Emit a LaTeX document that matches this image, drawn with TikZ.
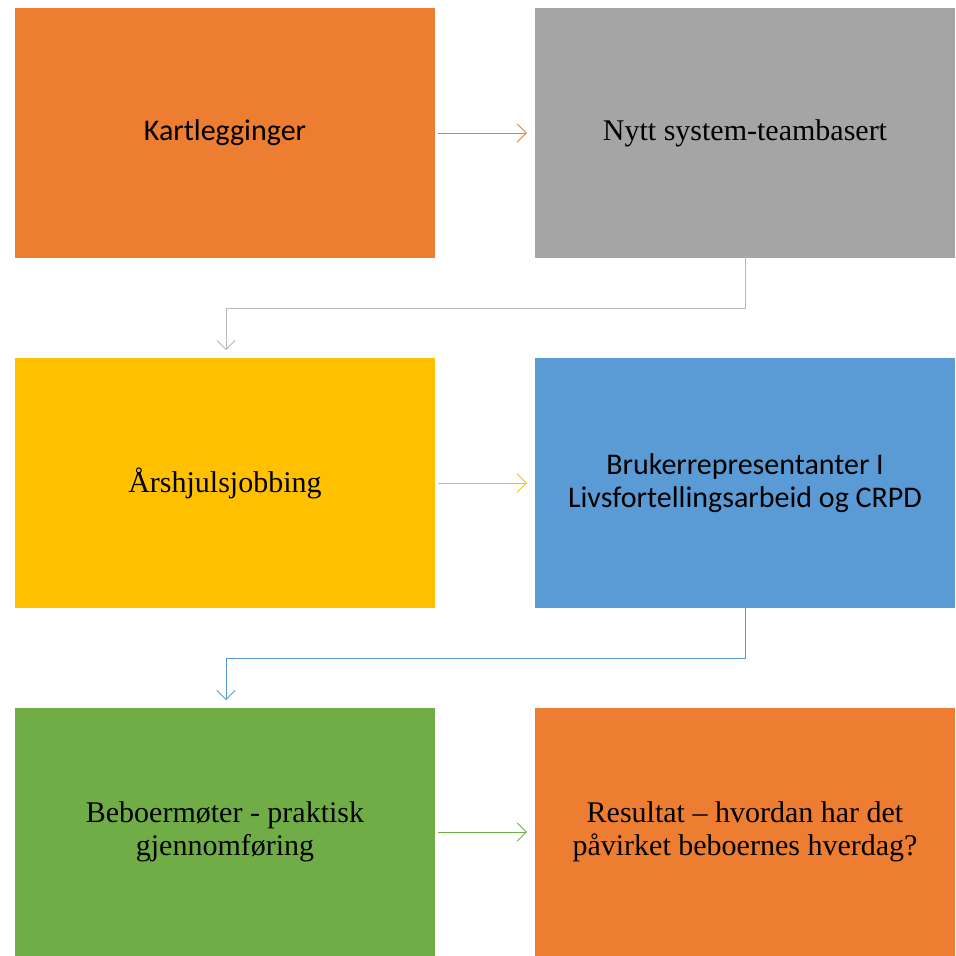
\documentclass[tikz,border=0pt]{standalone}
\usepackage{fontspec}
\setmainfont{Liberation Serif}
\newfontfamily\calib{Carlito}
\usetikzlibrary{arrows.meta}
\definecolor{cOrange}{HTML}{ED7D31}
\definecolor{cGray}{HTML}{A5A5A5}
\definecolor{cYellow}{HTML}{FFC000}
\definecolor{cBlue}{HTML}{5B9BD5}
\definecolor{cGreen}{HTML}{70AD47}
\tikzset{
  box/.style={minimum width=420pt, minimum height=250pt, inner sep=0pt, align=center, font=\fontsize{30}{33}\selectfont, text=black},
  sbox/.style={box, font=\calib\fontsize{30}{33}\selectfont},
  conn/.style={line width=0.8pt, -{Straight Barb[length=9pt,width=18pt,line width=0.8pt]}}
}
\begin{document}
\begin{tikzpicture}[x=1pt,y=-1pt]
\useasboundingbox (0,0) rectangle (956,956);
\node[sbox, fill=cOrange] (b1) at (225,133) {Kartlegginger};
\node[box, fill=cGray] (b2) at (745,133) {Nytt system-teambasert};
\node[box, fill=cYellow] (b3) at (225,483) {Årshjulsjobbing};
\node[sbox, fill=cBlue] (b4) at (745,483) {Brukerrepresentanter I\\Livsfortellingsarbeid og CRPD};
\node[box, fill=cGreen, minimum height=248pt] (b5) at (225,832) {Beboermøter - praktisk\\gjennomføring};
\node[box, fill=cOrange, minimum height=248pt] (b6) at (745,832) {Resultat – hvordan har det\\påvirket beboernes hverdag?};
\coordinate (t3) at (226,350);
\coordinate (t5) at (226,700);
\draw[conn, cOrange] ([xshift=3pt]b1.east) -- ([xshift=-8pt]b2.west);
\draw[conn, cGray!80] ([yshift=2pt]b2.south) |- (226,308) -- (t3);
\draw[conn, cYellow] ([xshift=3pt]b3.east) -- ([xshift=-8pt]b4.west);
\draw[conn, cBlue] ([yshift=2pt]b4.south) |- (226,658) -- (t5);
\draw[conn, cGreen] ([xshift=3pt]b5.east) -- ([xshift=-8pt]b6.west);
\end{tikzpicture}
\end{document}
